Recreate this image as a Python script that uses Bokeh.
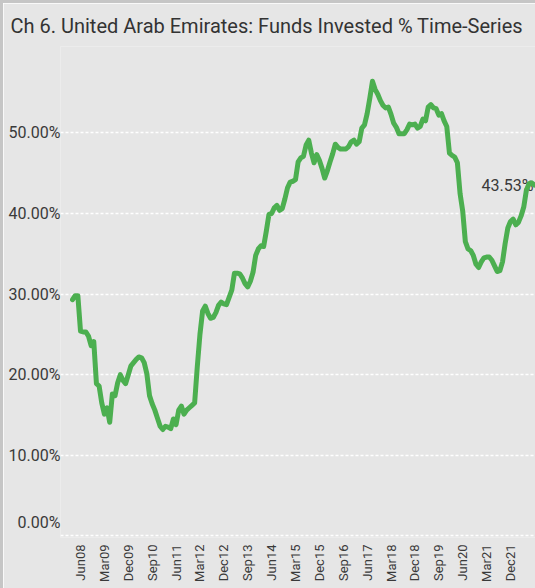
import math
from bokeh.plotting import figure
from bokeh.models import FixedTicker, PrintfTickFormatter, Range1d
from bokeh.core.properties import value
from bokeh.embed import file_html
from bokeh.resources import INLINE

title_text = "Ch 6. United Arab Emirates:  Funds Invested % Time-Series"
start_year, start_month = 2008, 3
month_names = ["Jan", "Feb", "Mar", "Apr", "May", "Jun",
               "Jul", "Aug", "Sep", "Oct", "Nov", "Dec"]

# Funds invested (%), monthly from Mar08
values = [
    29.3, 29.8, 29.8, 25.4, 25.3, 25.3, 24.8, 23.6, 24.1, 18.9,
    18.6, 16.5, 15.1, 15.9, 14.1, 17.6, 17.4, 19.0, 20.0, 19.3,
    18.9, 20.0, 21.1, 21.5, 21.9, 22.2, 22.1, 21.5, 20.1, 17.4,
    16.4, 15.6, 14.6, 13.6, 13.2, 13.6, 13.5, 13.3, 14.5, 13.8,
    15.6, 16.1, 15.1, 15.6, 15.9, 16.2, 16.5, 21.0, 25.0, 27.9,
    28.5, 27.6, 27.0, 27.1, 27.7, 28.6, 29.0, 28.8, 28.7, 29.6,
    30.5, 32.6, 32.6, 32.5, 32.0, 31.3, 30.9, 31.6, 32.7, 34.8,
    35.6, 36.0, 35.9, 37.8, 39.9, 40.0, 40.7, 41.0, 40.4, 40.6,
    41.8, 43.2, 43.9, 44.0, 44.2, 46.4, 46.9, 47.1, 48.5, 49.1,
    47.5, 46.3, 47.3, 46.6, 45.6, 44.4, 45.3, 46.4, 47.4, 48.6,
    48.2, 48.0, 48.0, 48.0, 48.3, 48.9, 49.1, 48.6, 48.9, 50.6,
    51.0, 52.4, 54.3, 56.4, 55.4, 54.8, 54.0, 53.4, 53.1, 53.2,
    52.3, 51.2, 50.7, 49.9, 49.9, 49.9, 50.4, 51.1, 51.0, 51.1,
    50.6, 50.8, 51.7, 51.5, 53.2, 53.5, 53.1, 53.0, 52.2, 52.4,
    51.5, 50.8, 47.5, 47.2, 47.0, 46.3, 42.5, 40.3, 36.5, 35.6,
    35.4, 34.8, 33.7, 33.3, 34.0, 34.5, 34.6, 34.6, 34.2, 33.5,
    32.8, 32.9, 34.0, 36.3, 38.2, 39.0, 39.3, 38.6, 38.9, 39.7,
    40.8, 42.9, 43.7, 43.8, 43.53,
]

tick_labels = ["Jun08", "Mar09", "Dec09", "Sep10", "Jun11", "Mar12", "Dec12",
               "Sep13", "Jun14", "Mar15", "Dec15", "Sep16", "Jun17", "Mar18",
               "Dec18", "Sep19", "Jun20", "Mar21", "Dec21"]
y_ticks = [0, 10, 20, 30, 40, 50]


def month_label(i):
    m = start_month - 1 + i
    return month_names[m % 12] + "%02d" % ((start_year + m // 12) % 100)


labels_all = [month_label(i) for i in range(len(values))]
xs = list(range(len(values)))
tick_pos = [labels_all.index(t) for t in tick_labels]

FONT = "Roboto"
TXT = "#3a3a3a"
BG = "#e6e6e6"
GREEN = "#4caf50"

p = figure(width=535, height=588, output_backend="svg", toolbar_location=None,
           x_range=Range1d(-4.54, 175.56), y_range=Range1d(-0.2, 60.72),
           min_border_left=57, min_border_right=0, min_border_top=43,
           min_border_bottom=54, title=title_text)
p.styles = {"border-left": "3px solid #c6c6c6",
            "border-top": "3px solid #c6c6c6",
            "box-sizing": "border-box"}

p.background_fill_color = BG
p.border_fill_color = BG
p.outline_line_color = None

p.title.text_font = FONT
p.title.text_font_size = "20px"
p.title.text_font_style = "normal"
p.title.text_color = "#333333"
p.title.align = "left"
p.title.offset = -50
p.title.standoff = 17

# grid
p.xgrid.visible = False
p.ygrid.ticker = FixedTicker(ticks=y_ticks)
p.ygrid.grid_line_color = "white"
p.ygrid.grid_line_dash = "3 2"
p.ygrid.grid_line_width = 1.5

# y axis: the 0.00% label sits just above its grid line
zero_shift = 1.6
p.yaxis.ticker = FixedTicker(ticks=[zero_shift] + y_ticks[1:])
p.yaxis.formatter = PrintfTickFormatter(format="%.2f%%")
p.yaxis.major_label_overrides = {zero_shift: "%.2f%%" % y_ticks[0]}
p.yaxis.axis_line_color = None
p.yaxis.major_tick_line_color = None
p.yaxis.minor_tick_line_color = None
p.yaxis.major_tick_out = 0
p.yaxis.major_tick_in = 0
p.yaxis.major_label_standoff = 0
p.yaxis.major_label_text_font = FONT
p.yaxis.major_label_text_font_size = "16px"
p.yaxis.major_label_text_color = TXT

# x axis
p.xaxis.ticker = FixedTicker(ticks=tick_pos)
p.xaxis.major_label_overrides = {t: l for t, l in zip(tick_pos, tick_labels)}
p.xaxis.major_label_orientation = math.pi / 2
p.xaxis.axis_line_color = None
p.xaxis.major_tick_line_color = None
p.xaxis.minor_tick_line_color = None
p.xaxis.major_tick_out = 0
p.xaxis.major_tick_in = 0
p.xaxis.major_label_standoff = 7
p.xaxis.major_label_text_font = FONT
p.xaxis.major_label_text_font_size = "13px"
p.xaxis.major_label_text_color = TXT

# last value label (drawn under the line)
p.text(x=[xs[-1]], y=[values[-1]], text=["%.2f%%" % values[-1]],
       text_align="right", text_baseline="middle", x_offset=-1,
       text_font=value(FONT), text_font_size="16px", text_color=TXT)

p.line(xs, values, line_color=GREEN, line_width=5, line_join="round",
       line_cap="round")

open("out.html", "w").write(file_html(p, INLINE))
